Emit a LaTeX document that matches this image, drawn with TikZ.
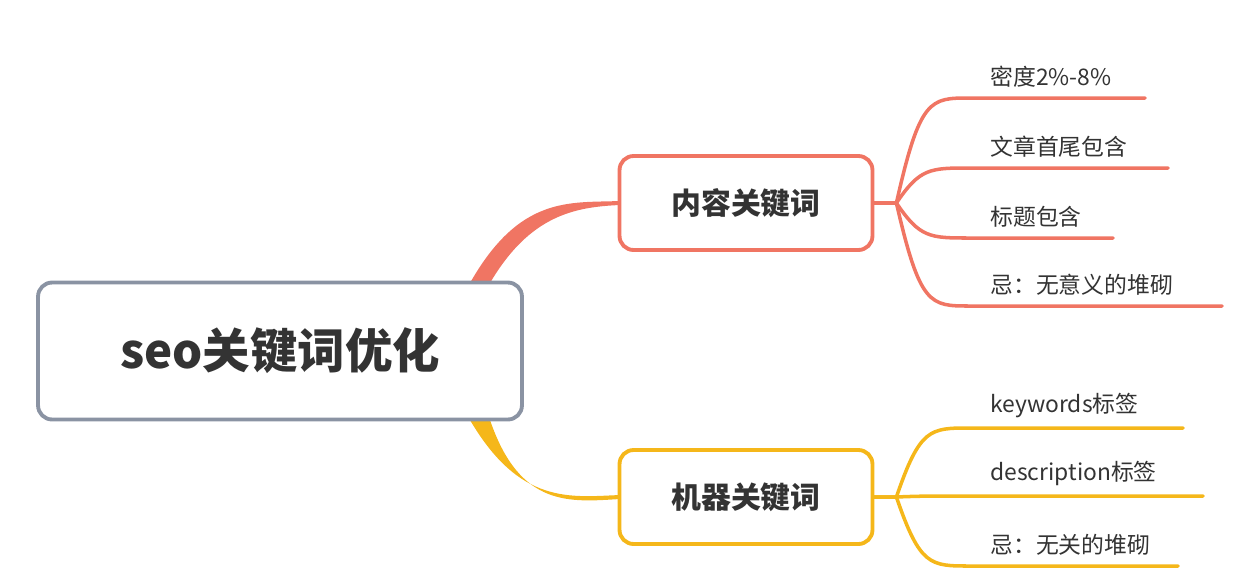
\documentclass[tikz,border=0pt]{standalone}
\usepackage{fontspec}
\setmainfont{Noto Sans CJK SC}
\usetikzlibrary{positioning}
\definecolor{rootgray}{HTML}{8A93A3}
\definecolor{salmon}{HTML}{F07563}
\definecolor{amber}{HTML}{F5B71A}
\definecolor{ink}{HTML}{333333}
\tikzset{
	topic/.style={draw, rounded corners=8pt, line width=2.2pt, fill=white, text=ink, font=\bfseries\fontsize{17}{20}\selectfont, minimum width=5.06cm, minimum height=1.88cm},
	leaf/.style={anchor=south west, inner sep=0pt, text=ink, font=\fontsize{13}{15}\selectfont},
	twig/.style={line width=2pt, line cap=round}
}
\begin{document}
\begin{tikzpicture}[x=0.02cm,y=-0.02cm]

	\useasboundingbox (0,0) rectangle (1259,586);

	% Branches from the root
	\fill[salmon] (470,283) .. controls (520,195) and (570,203) .. (620,201) -- (620,205) .. controls (575,207) and (530,215) .. (490,283) -- cycle;
	\fill[amber] (470,420) .. controls (520,505) and (570,497) .. (620,495) -- (620,499) .. controls (570,502) and (520,508) .. (490,420) -- cycle;

	% Root and topics
	\node[topic, draw=rootgray, minimum width=9.68cm, minimum height=2.74cm, font=\bfseries\fontsize{27}{32}\selectfont] (seo) at (280,351) {seo关键词优化};
	\node[topic, draw=salmon] (content) at (746,203) {内容关键词};
	\node[topic, draw=amber] (machine) at (746,497) {机器关键词};

	% Leaves of the content topic
	\node[leaf] (density) at (990,88) {密度2\%-8\%};
	\node[leaf] (ends) at (990,158) {文章首尾包含};
	\node[leaf] (title) at (990,228) {标题包含};
	\node[leaf] (pile) at (990,296) {忌：无意义的堆砌};
	\coordinate (densityEnd) at (1145,98);
	\coordinate (endsEnd) at (1168,168);
	\coordinate (titleEnd) at (1113,238);
	\coordinate (pileEnd) at (1222,306);

	% Leaves of the machine topic
	\node[leaf] (keywords) at (990,418) {keywords标签};
	\node[leaf] (description) at (990,486) {description标签};
	\node[leaf] (stuff) at (990,556) {忌：无关的堆砌};
	\coordinate (keywordsEnd) at (1183,428);
	\coordinate (descriptionEnd) at (1203,496);
	\coordinate (stuffEnd) at (1178,566);

	% Twigs
	\foreach \leafname/\y in {densityEnd/98, endsEnd/168, titleEnd/238, pileEnd/306}
		\draw[twig, salmon] (content.east) -- ++(22,0) .. controls (920,\y) and (930,\y) .. (970,\y) -- (\leafname);
	\foreach \leafname/\y in {keywordsEnd/428, descriptionEnd/496, stuffEnd/566}
		\draw[twig, amber] (machine.east) -- ++(22,0) .. controls (920,\y) and (930,\y) .. (970,\y) -- (\leafname);

\end{tikzpicture}
\end{document}
